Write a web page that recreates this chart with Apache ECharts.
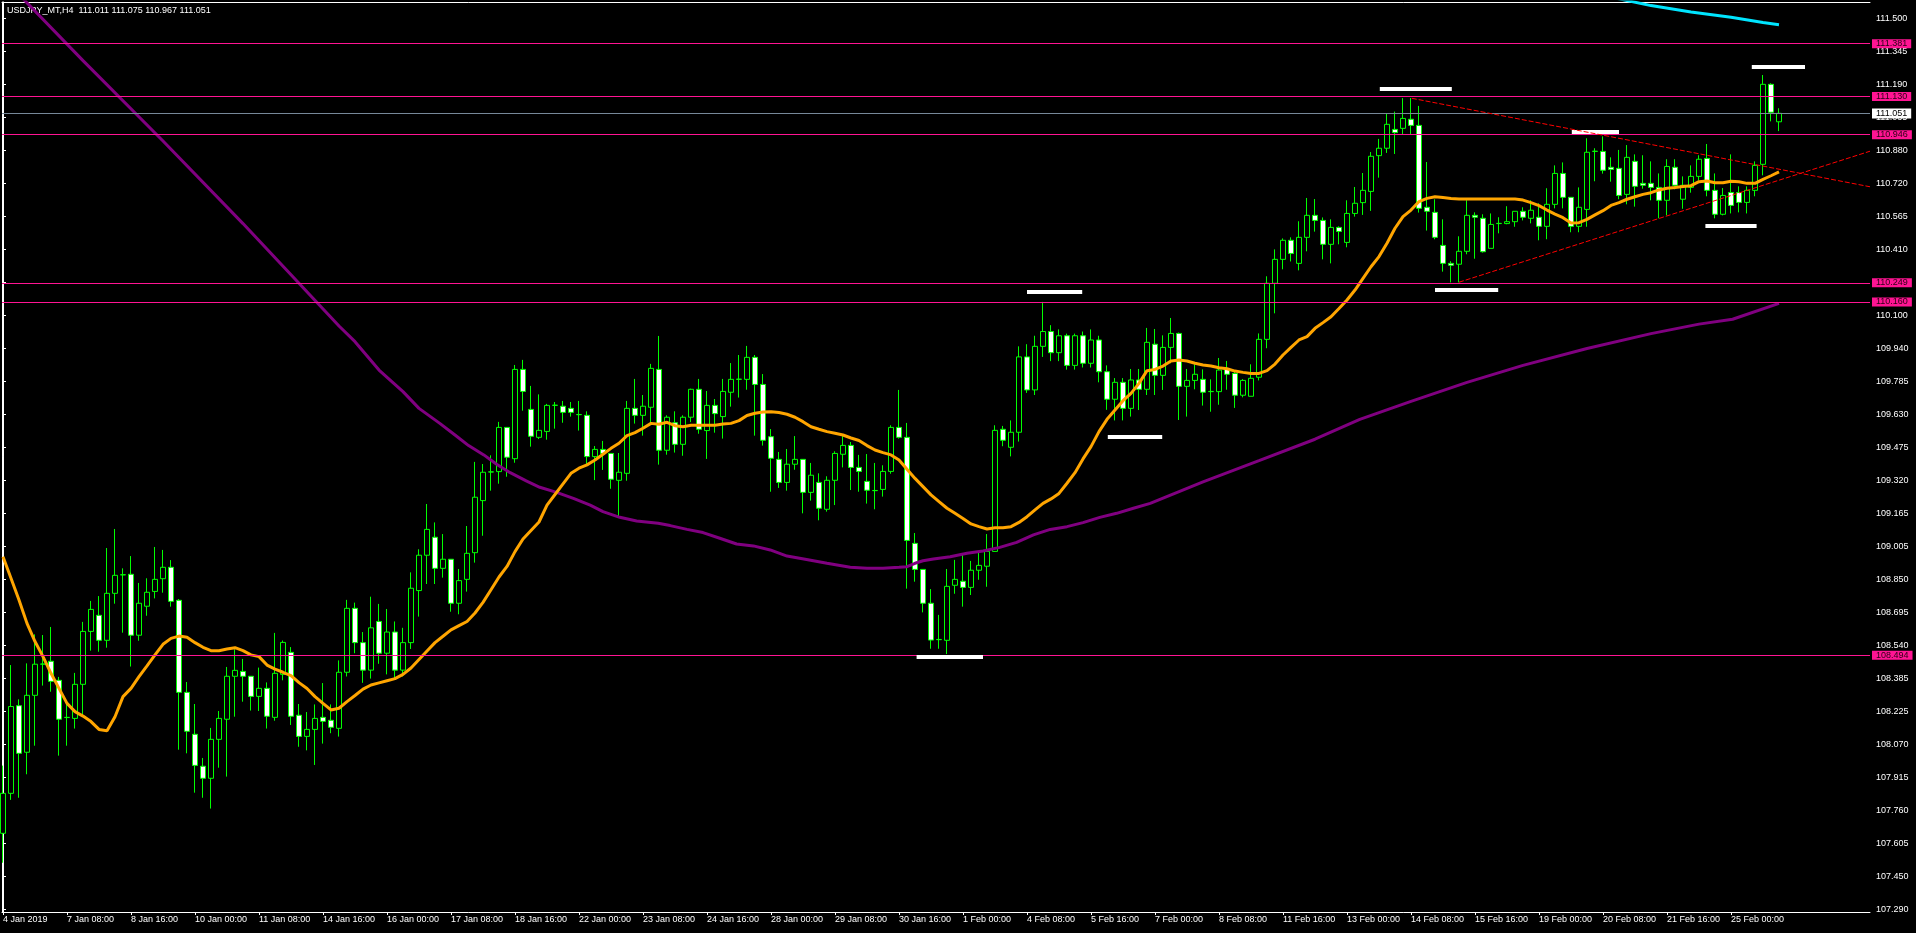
<!DOCTYPE html>
<html><head><meta charset="utf-8">
<script src="https://cdn.jsdelivr.net/npm/echarts@6/dist/echarts.min.js"></script>
<style>html,body{margin:0;padding:0;background:#000;overflow:hidden}#c{width:1916px;height:933px}</style>
</head><body><div id="c"></div>
<script>
const titleText = 'USDJPY_MT,H4  111.011 111.075 110.967 111.051';

const timeLabels = ['4 Jan 2019','7 Jan 08:00','8 Jan 16:00','10 Jan 00:00','11 Jan 08:00','14 Jan 16:00','16 Jan 00:00','17 Jan 08:00','18 Jan 16:00','22 Jan 00:00','23 Jan 08:00','24 Jan 16:00','28 Jan 00:00','29 Jan 08:00','30 Jan 16:00','1 Feb 00:00','4 Feb 08:00','5 Feb 16:00','7 Feb 00:00','8 Feb 08:00','11 Feb 16:00','13 Feb 00:00','14 Feb 08:00','15 Feb 16:00','19 Feb 00:00','20 Feb 08:00','21 Feb 16:00','25 Feb 00:00'];
const barsPerLabel = 8;

const priceTickLabels = ['107.290','107.450','107.605','107.760','107.915','108.070','108.225','108.385','108.540','108.695','108.850','109.005','109.165','109.320','109.475','109.630','109.785','109.940','110.100','110.255','110.410','110.565','110.720','110.880','111.035','111.190','111.345','111.500'];

const openVals = [
107.649,107.838,108.252,108.032,108.301,108.448,108.462,108.372,108.196,108.192,
108.353,108.603,108.679,108.561,108.783,108.870,108.873,108.585,108.722,108.792,
108.852,108.906,108.750,108.315,108.117,107.966,107.909,108.093,108.188,108.391,
108.414,108.391,108.296,108.334,108.197,108.400,108.504,108.207,108.107,108.140,
108.197,108.183,108.145,108.410,108.712,108.550,108.420,108.650,108.500,108.600,
108.420,108.550,108.796,108.963,109.048,108.901,108.944,108.736,108.849,108.975,
109.221,109.356,109.358,109.567,109.419,109.841,109.652,109.520,109.548,109.671,
109.667,109.657,109.627,109.624,109.429,109.463,109.444,109.317,109.350,109.657,
109.624,109.662,109.841,109.459,109.589,109.487,109.615,109.747,109.552,109.671,
109.618,109.733,109.794,109.794,109.898,109.770,109.523,109.416,109.307,109.393,
109.416,109.260,109.307,109.180,109.317,109.440,109.482,109.378,109.312,109.268,
109.274,109.359,109.567,109.520,109.019,108.896,108.736,108.564,108.561,108.821,
108.840,108.811,108.892,108.911,108.981,109.558,109.473,109.544,109.900,109.744,
109.950,110.020,109.920,110.000,109.860,110.000,109.870,109.980,109.830,109.700,
109.780,109.657,109.791,109.747,109.960,109.813,109.945,110.011,109.761,109.789,
109.794,109.736,109.736,109.843,109.822,109.719,109.714,109.804,109.983,110.248,
110.361,110.451,110.342,110.465,110.569,110.545,110.432,110.512,110.441,110.578,
110.629,110.682,110.851,110.886,110.975,110.980,111.023,110.994,110.607,110.583,
110.427,110.342,110.338,110.399,110.569,110.555,110.413,110.530,110.530,110.539,
110.588,110.555,110.560,110.517,110.621,110.767,110.654,110.517,110.597,110.871,
110.871,110.796,110.791,110.668,110.824,110.720,110.720,110.701,110.640,110.796,
110.645,110.701,110.753,110.838,110.687,110.574,110.677,110.677,110.630,110.687,
110.810,111.188,111.011];

const closeVals = [
107.838,108.248,108.027,108.301,108.448,108.449,108.367,108.188,108.197,108.353,
108.603,108.707,108.561,108.783,108.868,108.871,108.585,108.736,108.788,108.849,
108.906,108.745,108.315,108.131,107.970,107.909,108.093,108.192,108.391,108.419,
108.391,108.296,108.334,108.202,108.405,108.551,108.202,108.107,108.140,108.192,
108.178,108.150,108.410,108.712,108.550,108.420,108.620,108.500,108.600,108.420,
108.550,108.807,108.963,109.085,108.901,108.944,108.736,108.843,108.972,109.237,
109.355,109.357,109.567,109.426,109.841,109.737,109.525,109.553,109.671,109.672,
109.638,109.638,109.628,109.429,109.463,109.444,109.322,109.355,109.657,109.624,
109.667,109.846,109.459,109.615,109.487,109.615,109.747,109.558,109.671,109.632,
109.737,109.794,109.795,109.898,109.770,109.506,109.421,109.307,109.393,109.416,
109.260,109.341,109.185,109.317,109.444,109.482,109.378,109.359,109.270,109.269,
109.359,109.567,109.520,109.033,108.896,108.736,108.562,108.565,108.816,108.849,
108.811,108.892,108.915,108.981,109.553,109.506,109.544,109.900,109.744,109.950,
110.020,109.920,110.000,109.860,110.000,109.870,109.980,109.830,109.700,109.780,
109.657,109.791,109.747,109.969,109.813,109.945,110.011,109.761,109.789,109.818,
109.733,109.737,109.838,109.818,109.719,109.789,109.799,109.983,110.248,110.361,
110.451,110.389,110.465,110.569,110.545,110.432,110.512,110.493,110.578,110.626,
110.687,110.848,110.886,110.999,110.960,111.027,110.994,110.602,110.588,110.465,
110.342,110.333,110.399,110.569,110.560,110.397,110.526,110.531,110.539,110.588,
110.560,110.593,110.517,110.621,110.767,110.654,110.517,110.607,110.867,110.872,
110.782,110.786,110.663,110.843,110.706,110.711,110.701,110.640,110.800,110.711,
110.711,110.753,110.834,110.687,110.574,110.663,110.616,110.630,110.687,110.805,
111.188,111.056,111.051];

const lowVals = [
107.510,107.807,107.817,107.928,108.063,108.347,108.318,108.016,108.063,108.144,
108.203,108.512,108.507,108.526,108.734,108.597,108.437,108.559,108.677,108.759,
108.786,108.720,108.044,108.027,107.841,107.817,107.766,107.959,107.917,108.200,
108.271,108.229,108.227,108.144,108.181,108.372,108.161,108.058,108.041,107.972,
108.073,108.122,108.106,108.390,108.500,108.360,108.380,108.450,108.400,108.380,
108.390,108.520,108.673,108.827,108.827,108.857,108.696,108.684,108.791,108.928,
109.055,109.268,109.301,109.334,109.400,109.646,109.476,109.512,109.509,109.561,
109.589,109.618,109.552,109.389,109.318,109.366,109.277,109.148,109.315,109.585,
109.528,109.586,109.391,109.438,109.448,109.433,109.592,109.537,109.418,109.542,
109.514,109.665,109.708,109.745,109.528,109.481,109.263,109.281,109.268,109.367,
109.161,109.221,109.128,109.169,109.200,109.378,109.271,109.263,109.207,109.180,
109.240,109.348,109.514,108.805,108.838,108.693,108.521,108.521,108.496,108.781,
108.720,108.775,108.847,108.814,108.980,109.478,109.430,109.500,109.730,109.720,
109.900,109.880,109.880,109.840,109.840,109.850,109.850,109.780,109.650,109.600,
109.600,109.618,109.649,109.720,109.720,109.744,109.870,109.602,109.618,109.747,
109.670,109.641,109.674,109.745,109.659,109.709,109.714,109.789,109.941,110.106,
110.314,110.351,110.309,110.399,110.492,110.361,110.342,110.432,110.418,110.563,
110.571,110.590,110.747,110.864,110.859,110.949,110.953,110.582,110.497,110.456,
110.303,110.252,110.252,110.385,110.364,110.393,110.413,110.484,110.527,110.515,
110.545,110.531,110.451,110.456,110.602,110.602,110.489,110.489,110.515,110.730,
110.766,110.728,110.645,110.621,110.610,110.695,110.640,110.555,110.569,110.692,
110.600,110.676,110.734,110.659,110.555,110.569,110.578,110.583,110.578,110.659,
110.758,111.013,110.967];

const highVals = [
107.969,108.444,108.282,108.452,108.589,108.586,108.624,108.388,108.260,108.407,
108.648,108.747,108.770,108.997,109.087,108.901,108.959,108.832,108.854,109.002,
108.988,108.940,108.756,108.364,108.260,108.005,108.147,108.227,108.435,108.518,
108.473,108.391,108.432,108.362,108.596,108.560,108.529,108.260,108.222,108.258,
108.359,108.258,108.466,108.752,108.739,108.600,108.767,108.733,108.709,108.650,
108.620,108.882,108.991,109.205,109.118,109.063,108.944,108.898,109.101,109.404,
109.394,109.435,109.593,109.567,109.862,109.886,109.763,109.723,109.678,109.687,
109.692,109.687,109.692,109.643,109.479,109.503,109.444,109.446,109.692,109.796,
109.720,109.867,109.999,109.624,109.643,109.624,109.750,109.796,109.739,109.701,
109.796,109.871,109.909,109.952,109.909,109.819,109.559,109.451,109.465,109.526,
109.416,109.399,109.350,109.336,109.454,109.526,109.498,109.437,109.441,109.399,
109.388,109.577,109.744,109.588,109.068,108.896,108.803,108.681,108.898,108.941,
108.964,108.936,108.974,109.063,109.577,109.574,109.600,109.950,109.960,110.000,
110.160,110.050,110.030,110.010,110.010,110.020,110.030,110.000,109.860,109.800,
109.800,109.843,109.843,110.037,110.032,110.002,110.084,110.015,109.843,109.865,
109.841,109.794,109.895,109.881,109.833,109.795,109.865,110.011,110.281,110.408,
110.460,110.465,110.541,110.651,110.646,110.559,110.550,110.517,110.640,110.703,
110.769,110.868,110.930,111.051,111.059,111.123,111.123,111.086,110.821,110.645,
110.550,110.352,110.470,110.640,110.583,110.574,110.578,110.560,110.612,110.588,
110.607,110.640,110.626,110.697,110.805,110.819,110.654,110.701,110.933,110.886,
110.942,110.843,110.878,110.901,110.857,110.853,110.824,110.767,110.834,110.834,
110.753,110.805,110.853,110.906,110.767,110.698,110.857,110.706,110.706,110.824,
111.232,111.193,111.075];

const maOrange = [
108.956,108.854,108.751,108.641,108.555,108.484,108.405,108.334,108.263,108.224,
108.203,108.177,108.140,108.134,108.200,108.295,108.334,108.389,108.440,108.492,
108.542,108.570,108.581,108.575,108.550,108.528,108.512,108.512,108.520,108.526,
108.512,108.492,108.484,108.444,108.425,108.410,108.394,108.361,108.333,108.295,
108.263,108.232,108.240,108.271,108.300,108.330,108.350,108.360,108.370,108.380,
108.400,108.430,108.470,108.510,108.550,108.580,108.610,108.630,108.650,108.690,
108.740,108.800,108.860,108.910,108.980,109.040,109.080,109.120,109.200,109.250,
109.300,109.350,109.374,109.390,109.413,109.440,109.468,109.492,109.528,109.542,
109.563,109.586,109.582,109.591,109.575,109.570,109.577,109.577,109.577,109.577,
109.583,109.586,109.599,109.623,109.634,109.640,109.641,109.637,109.629,109.615,
109.594,109.570,109.558,109.547,109.539,109.531,109.517,109.505,109.481,109.460,
109.448,109.437,109.413,109.369,109.326,109.287,109.248,109.216,109.185,109.161,
109.137,109.111,109.098,109.087,109.093,109.093,109.098,109.118,109.145,109.177,
109.208,109.229,109.255,109.303,109.353,109.418,109.476,109.547,109.605,109.649,
109.693,109.728,109.775,109.835,109.841,109.857,109.881,109.885,109.881,109.870,
109.862,109.857,109.849,109.844,109.833,109.827,109.822,109.822,109.835,109.866,
109.909,109.945,109.980,109.996,110.035,110.062,110.090,110.129,110.169,110.216,
110.271,110.326,110.374,110.437,110.508,110.563,110.594,110.634,110.649,110.657,
110.653,110.649,110.646,110.646,110.646,110.646,110.646,110.646,110.646,110.646,
110.641,110.629,110.615,110.594,110.575,110.558,110.533,110.534,110.550,110.571,
110.591,110.616,110.629,110.645,110.657,110.668,110.676,110.689,110.697,110.700,
110.705,110.709,110.728,110.731,110.723,110.723,110.730,110.728,110.720,110.720,
110.739,110.756,110.774];

const maPurple = [
[0,111.69],[10,111.30],[20,110.92],[30,110.53],[42,110.046],[44,109.972],[47,109.838],[50,109.736],
[52,109.657],[54.6,109.586],[56.5,109.531],[58.2,109.481],[60.1,109.437],[61.7,109.393],[63.4,109.353],
[65.4,109.314],[67.1,109.284],[69.2,109.26],[71.3,109.232],[73.4,109.2],[75,109.169],[77.1,109.142],
[79.2,109.125],[81.9,109.114],[83.4,109.103],[85.5,109.085],[87.5,109.07],[89.6,109.043],[91.7,109.016],
[93.8,109.007],[95.9,108.988],[98,108.959],[100.1,108.945],[103,108.925],[105.9,108.906],[108,108.901],
[110,108.901],[112,108.906],[113,108.909],[114,108.925],[115,108.937],[116.3,108.945],[118.4,108.956],
[120.5,108.972],[122.5,108.983],[124.6,109.0],[126.7,109.024],[128.8,109.059],[130.9,109.085],[133,109.098],
[135,109.117],[137.1,109.142],[139.2,109.161],[141.3,109.185],[143.4,109.208],[150,109.31],[157,109.41],
[164,109.511],[169.6,109.605],[176,109.69],[183,109.78],[190,109.86],[198,109.94],[206,110.01],
[212,110.055],[216.2,110.078],[222,110.153]];

const maCyan = [[201,111.60],[206,111.56],[211,111.53],[216,111.505],[220,111.48],[222,111.47]];

const pinkLevels = [111.381, 111.130, 110.946, 110.249, 110.160, 108.494];
const bidPrice = 111.051;

// [fromBar, toBar, price]
const whiteSegments = [[172.1,181.1,111.165],[196.1,202.0,110.964],[218.6,225.25,111.269],[212.8,219.2,110.522],[179.0,186.9,110.219],[114.2,122.5,108.482],[128.0,134.9,110.210],[138.1,144.9,109.523]];
// [fromBar, fromPrice, toBar, toPrice]
const trendLines = [[176.1,111.122,233.375,110.704],[182.0,110.253,233.375,110.872]];

const candleData = openVals.map((o, i) => [i, o, closeVals[i], lowVals[i], highVals[i]]);
const orangeData = maOrange.map((v, i) => [i, v]);

const tickLo = Number(priceTickLabels[0]), tickHi = Number(priceTickLabels[priceTickLabels.length - 1]);
const tickStep = (tickHi - tickLo) / (priceTickLabels.length - 1);
const priceTickPos = priceTickLabels.map((s, k) => tickLo + k * tickStep);
const timeTickPos = timeLabels.map((s, k) => k * barsPerLabel);

const PINK = '#FF1493';
const FONT = 'Liberation Sans';

const chart = echarts.init(document.getElementById('c'), null, {renderer: 'canvas'});
chart.setOption({
  backgroundColor: '#000000',
  animation: false,
  grid: {left: 2, top: 2, width: 1868, height: 910, outerBoundsMode: 'none', containLabel: false},
  xAxis: [{
    type: 'value', min: -0.125, max: 233.375, position: 'bottom',
    axisLine: {show: true, lineStyle: {color: '#ffffff', width: 1}},
    axisTick: {show: true, length: 3, lineStyle: {color: '#ffffff'}, customValues: timeTickPos},
    axisLabel: {show: true, customValues: timeTickPos, color: '#ffffff', fontFamily: FONT, fontSize: 9, margin: 3, align: 'left',
      formatter: v => timeLabels[Math.round(v / barsPerLabel)] || ''},
    splitLine: {show: false}
  }, {
    type: 'value', min: 0, max: 1, position: 'top',
    axisLine: {show: true, lineStyle: {color: '#ffffff', width: 1}},
    axisTick: {show: false}, axisLabel: {show: false}, splitLine: {show: false}
  }],
  yAxis: [{
    type: 'value', min: 107.2772, max: 111.577, position: 'right',
    axisLine: {show: true, lineStyle: {color: '#ffffff', width: 1}},
    axisTick: {show: true, length: 3, lineStyle: {color: '#ffffff'}, customValues: priceTickPos},
    axisLabel: {show: true, customValues: priceTickPos, color: '#ffffff', fontFamily: FONT, fontSize: 9, margin: 6,
      formatter: v => priceTickLabels[Math.round((v - tickLo) / tickStep)] || ''},
    splitLine: {show: false}
  }, {
    type: 'value', min: 0, max: 1, position: 'left',
    axisLine: {show: true, lineStyle: {color: '#ffffff', width: 1}},
    axisTick: {show: false}, axisLabel: {show: false}, splitLine: {show: false}
  }],
  graphic: [{type: 'text', z: 0, left: 7, top: 6, style: {text: titleText, fill: '#ffffff', font: '9px "Liberation Sans"'}}],
  series: [
    {
      type: 'line', data: [], silent: true, xAxisIndex: 0, yAxisIndex: 0,
      markLine: {
        silent: true, symbol: ['none', 'none'], animation: false,
        data: pinkLevels.map(p => ({
          yAxis: p,
          lineStyle: {color: PINK, width: 1, type: 'solid'},
          label: {show: true, position: 'end', distance: 2, formatter: () => p.toFixed(3),
            backgroundColor: PINK, color: '#2a0014', fontFamily: FONT, fontSize: 9, lineHeight: 9, padding: [0, 4, 0, 4]}
        })).concat([{
          yAxis: bidPrice,
          lineStyle: {color: '#778899', width: 1, type: 'solid'},
          label: {show: true, position: 'end', distance: 2, formatter: () => bidPrice.toFixed(3),
            backgroundColor: '#ffffff', color: '#000000', fontFamily: FONT, fontSize: 9, lineHeight: 10, padding: [0, 4, 0, 4]}
        }])
      }
    },
    {
      type: 'candlestick', data: candleData, barWidth: 5, clip: true,
      itemStyle: {color: '#000000', color0: '#ffffff', borderColor: '#00ff00', borderColor0: '#00ff00', borderColorDoji: '#00ff00', borderWidth: 1}
    },
    {type: 'line', data: maPurple, showSymbol: false, symbol: 'none', clip: true, lineStyle: {color: '#800080', width: 3}},
    {type: 'line', data: orangeData, showSymbol: false, symbol: 'none', clip: true, lineStyle: {color: '#FFA500', width: 3}},
    {type: 'line', data: maCyan, showSymbol: false, symbol: 'none', clip: true, lineStyle: {color: '#00E5FF', width: 3}},
    {
      type: 'line', data: [], silent: true,
      markLine: {
        silent: true, symbol: ['none', 'none'], animation: false,
        label: {show: false},
        data: whiteSegments.map(s => [
          {coord: [s[0], s[2]], lineStyle: {color: '#ffffff', width: 4, type: 'solid'}},
          {coord: [s[1], s[2]]}
        ]).concat(trendLines.map(t => [
          {coord: [t[0], t[1]], lineStyle: {color: '#ff0000', width: 1, type: [5, 2]}},
          {coord: [t[2], t[3]]}
        ]))
      }
    }
  ]
});
</script></body></html>
